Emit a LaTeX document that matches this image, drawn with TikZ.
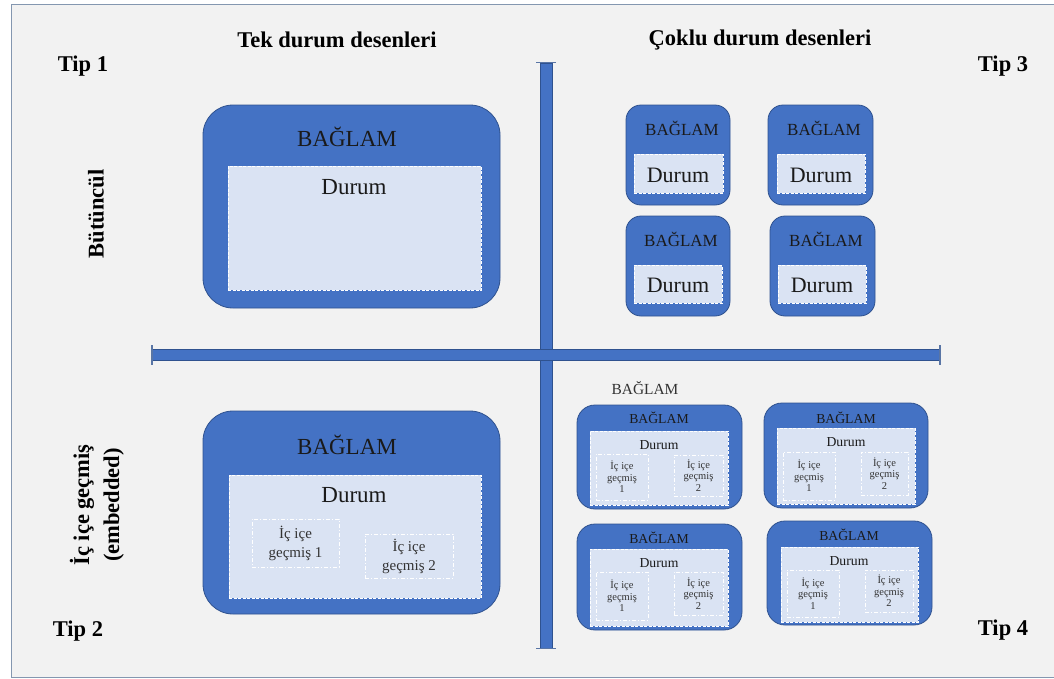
\documentclass[tikz,border=0pt]{standalone}
\usepackage{fontspec}
\setmainfont{Liberation Serif}
\definecolor{bgray}{HTML}{F2F2F2}
\definecolor{ablue}{HTML}{4472C4}
\definecolor{dblue}{HTML}{2F528F}
\definecolor{lblue}{HTML}{DAE3F3}
\definecolor{framec}{HTML}{8497B0}
\definecolor{txt}{HTML}{1A1A1A}
\definecolor{stxt}{HTML}{333333}
\newcommand\mkbox[6]{\node[#1, minimum width={(#5-#3)*1pt}, minimum height={(#6-#4)*1pt}] (#2) at ({(#3+#5)/2},{(#4+#6)/2}) {};}
\tikzset{
  outerbox/.style={draw=dblue, line width=0.8pt, fill=ablue, rounded corners=30pt, inner sep=0pt, outer sep=0pt},
  souter/.style={outerbox, rounded corners=15pt},
  mouter/.style={outerbox, rounded corners=18pt},
  innerbox/.style={draw=white, fill=lblue, dash pattern=on 3pt off 1.5pt, line width=0.7pt, inner sep=0pt, outer sep=0pt},
  nestbox/.style={draw=white, line width=0.7pt, dash pattern=on 4pt off 2pt on 1pt off 2pt, inner sep=0pt, outer sep=0pt},
  lbl/.style={inner sep=0pt, text=txt},
  big/.style={lbl, font=\fontsize{23}{27}\selectfont},
  bold/.style={lbl, text=black, font=\fontsize{22.5}{30}\selectfont\bfseries},
  bar/.style={draw=dblue, fill=ablue, line width=0.6pt, inner sep=0pt, outer sep=0pt},
  capline/.style={draw=dblue!80, line width=1.2pt},
}
\begin{document}
\begin{tikzpicture}[x=1pt, y=-1pt]
\useasboundingbox (0,0) rectangle (1054,678);
\path[fill=bgray, draw=framec, line width=1pt] (11,4.5) rectangle (1060,677);

% headings
\node[bold] (h1) at (337,40) {Tek durum desenleri};
\node[bold] (h2) at (760,40) {Çoklu durum desenleri};
\node[bold] (tip1) at (83,66) {Tip 1};
\node[bold] (tip3) at (1003,66) {Tip 3};
\node[bold] (tip2) at (78,631) {Tip 2};
\node[bold] (tip4) at (1003,630) {Tip 4};
\node[bold, rotate=90] (rl1) at (96,214) {Bütüncül};
\node[bold, rotate=90, align=center] (rl2) at (97,505) {İç içe geçmiş\\(embedded)};

% axes
\mkbox{bar}{vbar}{540}{63}{552}{648}
\mkbox{bar}{hbar}{152}{349.5}{940}{360.5}
\coordinate (vt1) at (536,62.5); \coordinate (vt2) at (556,62.5);
\coordinate (vb1) at (536,648.5); \coordinate (vb2) at (556,648.5);
\coordinate (hl1) at (152,345); \coordinate (hl2) at (152,365);
\coordinate (hr1) at (940,345); \coordinate (hr2) at (940,365);
\draw[capline] (vt1) -- (vt2);
\draw[capline] (vb1) -- (vb2);
\draw[capline] (hl1) -- (hl2);
\draw[capline] (hr1) -- (hr2);

% Tip 1
\mkbox{outerbox}{t1o}{203}{105}{500}{308}
\mkbox{innerbox}{t1i}{228}{166}{481}{290}
\node[big] (t1b) at (347,137) {BAĞLAM};
\node[big] (t1d) at (354,187) {Durum};

% Tip 2
\mkbox{outerbox}{t2o}{203}{411}{500}{614}
\mkbox{innerbox}{t2i}{229}{475}{481}{598}
\node[big] (t2b) at (347,445) {BAĞLAM};
\node[big] (t2d) at (354,495) {Durum};
\mkbox{nestbox}{t2n1}{252}{519}{339}{567}
\mkbox{nestbox}{t2n2}{365}{534}{453}{578}
\node[lbl, text=stxt, align=center, font=\fontsize{15}{19}\selectfont] (t2n1t) at (t2n1) {İç içe\\geçmiş 1};
\node[lbl, text=stxt, align=center, font=\fontsize{15}{19}\selectfont] (t2n2t) at (t2n2) {İç içe\\geçmiş 2};

% Tip 3
\tikzset{
  t3b/.style={lbl, font=\fontsize{17}{20}\selectfont},
  t3d/.style={lbl, font=\fontsize{22}{26}\selectfont},
}
\mkbox{souter}{a3o}{626}{105}{730}{205}
\mkbox{innerbox}{a3i}{634}{154}{723}{193}
\node[t3b] (a3b) at (682,128) {BAĞLAM};
\node[t3d] (a3d) at (678,175) {Durum};
\mkbox{souter}{b3o}{768}{105}{873}{205}
\mkbox{innerbox}{b3i}{777}{154}{865}{193}
\node[t3b] (b3b) at (824,128) {BAĞLAM};
\node[t3d] (b3d) at (821,175) {Durum};
\mkbox{souter}{c3o}{626}{216}{730}{316}
\mkbox{innerbox}{c3i}{634}{265}{722}{303}
\node[t3b] (c3b) at (681,239) {BAĞLAM};
\node[t3d] (c3d) at (678,285) {Durum};
\mkbox{souter}{d3o}{770}{216}{875}{316}
\mkbox{innerbox}{d3i}{778}{265}{866}{303}
\node[t3b] (d3b) at (826,239) {BAĞLAM};
\node[t3d] (d3d) at (822,285) {Durum};

% Tip 4
\tikzset{
  t4b/.style={lbl, font=\fontsize{13.7}{16}\selectfont},
  t4n/.style={lbl, text=stxt, align=center, font=\fontsize{10.5}{11.5}\selectfont},
}
\node[lbl, text=stxt, font=\fontsize{15.4}{18}\selectfont] (t4lab) at (645,388) {BAĞLAM};

\mkbox{mouter}{a4o}{577}{405}{742}{509}
\mkbox{innerbox}{a4i}{590}{431}{728}{505}
\node[t4b] (a4b) at (659,418) {BAĞLAM};
\node[t4b] (a4d) at (659,445) {Durum};
\mkbox{nestbox}{a4n1}{596}{454}{648}{500}
\mkbox{nestbox}{a4n2}{674}{455}{723}{496}
\node[t4n] (a4n1t) at (a4n1) {İç içe\\geçmiş\\1};
\node[t4n] (a4n2t) at (a4n2) {İç içe\\geçmiş\\2};

\mkbox{mouter}{b4o}{764}{403}{928}{508}
\mkbox{innerbox}{b4i}{777}{428}{915}{504}
\node[t4b] (b4b) at (846,418) {BAĞLAM};
\node[t4b] (b4d) at (846,442) {Durum};
\mkbox{nestbox}{b4n1}{783}{452}{835}{500}
\mkbox{nestbox}{b4n2}{861}{452}{908}{495}
\node[t4n] (b4n1t) at (b4n1) {İç içe\\geçmiş\\1};
\node[t4n] (b4n2t) at (b4n2) {İç içe\\geçmiş\\2};

\mkbox{mouter}{c4o}{577}{524}{742}{630}
\mkbox{innerbox}{c4i}{590}{549}{728}{626}
\node[t4b] (c4b) at (659,538) {BAĞLAM};
\node[t4b] (c4d) at (659,563) {Durum};
\mkbox{nestbox}{c4n1}{596}{572}{648}{620}
\mkbox{nestbox}{c4n2}{674}{572}{723}{615}
\node[t4n] (c4n1t) at (c4n1) {İç içe\\geçmiş\\1};
\node[t4n] (c4n2t) at (c4n2) {İç içe\\geçmiş\\2};

\mkbox{mouter}{d4o}{767}{521}{932}{625}
\mkbox{innerbox}{d4i}{781}{547}{918}{622}
\node[t4b] (d4b) at (849,535) {BAĞLAM};
\node[t4b] (d4d) at (849,561) {Durum};
\mkbox{nestbox}{d4n1}{787}{570}{839}{617}
\mkbox{nestbox}{d4n2}{865}{570}{913}{612}
\node[t4n] (d4n1t) at (d4n1) {İç içe\\geçmiş\\1};
\node[t4n] (d4n2t) at (d4n2) {İç içe\\geçmiş\\2};
\end{tikzpicture}
\end{document}
